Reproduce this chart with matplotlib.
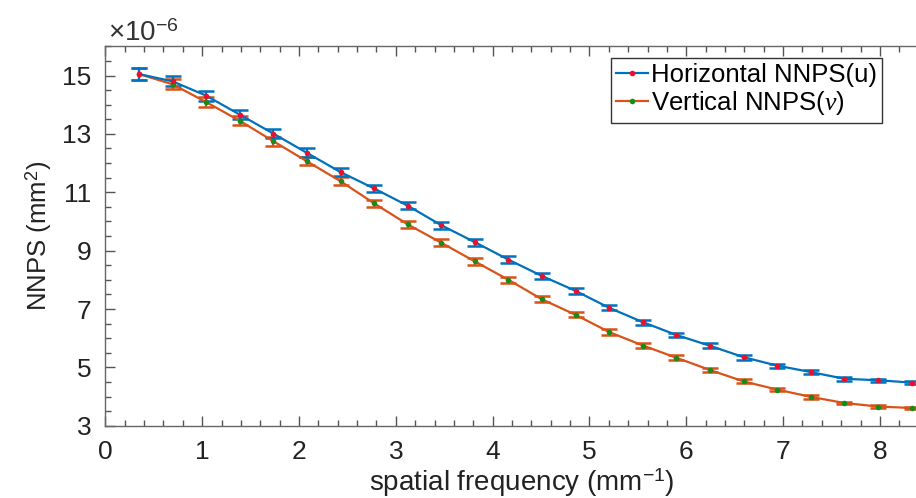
import matplotlib
matplotlib.use("Agg")
import matplotlib.pyplot as plt
import numpy as np
from matplotlib.ticker import MultipleLocator

plt.rcParams['font.family'] = ['Liberation Sans', 'DejaVu Sans']
plt.rcParams['mathtext.fontset'] = 'custom'
plt.rcParams['mathtext.rm'] = 'Liberation Sans'
plt.rcParams['mathtext.it'] = 'Liberation Serif:italic'

# spatial frequency (mm^-1)
freq = np.arange(1, 25) * 0.347

# NNPS values (x 1e-6 mm^2)
nnps_h = [15.05, 14.80, 14.31, 13.66, 13.01, 12.35, 11.69, 11.13, 10.54, 9.87,
          9.29, 8.69, 8.13, 7.62, 7.04, 6.55, 6.11, 5.74, 5.35, 5.06,
          4.84, 4.61, 4.56, 4.48]
nnps_v = [15.05, 14.70, 14.09, 13.45, 12.75, 12.06, 11.38, 10.62, 9.90, 9.27,
          8.63, 8.00, 7.33, 6.80, 6.21, 5.75, 5.33, 4.91, 4.52, 4.24,
          3.99, 3.78, 3.66, 3.61]
err_h = [0.20, 0.17, 0.17, 0.16, 0.15, 0.15, 0.14, 0.13, 0.13, 0.12,
         0.12, 0.11, 0.10, 0.10, 0.09, 0.09, 0.08, 0.08, 0.08, 0.07,
         0.06, 0.06, 0.05, 0.05]
err_v = [0.20, 0.17, 0.16, 0.15, 0.15, 0.14, 0.14, 0.13, 0.12, 0.12,
         0.11, 0.10, 0.10, 0.09, 0.09, 0.08, 0.08, 0.07, 0.07, 0.06,
         0.06, 0.05, 0.05, 0.05]

blue = '#0072BD'
orange = '#D95319'
red = '#E8112D'
green = '#1A8A1A'

fig = plt.figure(figsize=(9.16, 4.98), dpi=100)
ax = fig.add_axes([0.115, 0.145, 0.909, 0.762])

# error bars
ax.errorbar(freq, nnps_h, yerr=err_h, fmt='none', ecolor=blue, elinewidth=1.6,
            capsize=6, capthick=1.8, zorder=3)
ax.errorbar(freq, nnps_v, yerr=err_v, fmt='none', ecolor=orange, elinewidth=1.6,
            capsize=6, capthick=1.8, zorder=2)
# lines with dot markers
ax.plot(freq, nnps_h, color=blue, lw=1.6, marker='.', markersize=6,
        markerfacecolor=red, markeredgecolor=red, label='Horizontal NNPS(u)', zorder=4)
ax.plot(freq, nnps_v, color=orange, lw=1.6, marker='.', markersize=6,
        markerfacecolor=green, markeredgecolor=green, label=r'Vertical NNPS($\nu$)', zorder=3)

ax.set_xlim(0, 8.6)
ax.set_ylim(3, 16)
ax.xaxis.set_major_locator(MultipleLocator(1))
ax.xaxis.set_minor_locator(MultipleLocator(0.2))
ax.set_yticks([3, 5, 7, 9, 11, 13, 15])
ax.yaxis.set_minor_locator(MultipleLocator(0.5))
ax.tick_params(which='both', direction='in', top=True, right=False, colors='#555555',
               labelcolor='#222222', width=1.0)
ax.tick_params(which='major', length=7, labelsize=19)
ax.tick_params(axis='y', which='major', pad=10)
ax.tick_params(axis='x', which='major', pad=10)
ax.tick_params(which='minor', length=4)
for s in ax.spines.values():
    s.set_color('#666666')
    s.set_linewidth(1.0)
ax.spines['right'].set_visible(False)

ax.set_xlabel(r'spatial frequency (mm$^{-1}$)', fontsize=20, color='#222222', labelpad=2)
ax.set_ylabel(r'NNPS (mm$^{2}$)', fontsize=18.5, color='#222222', labelpad=6)

fig.text(0.118, 0.918, r'$\times$10$^{-6}$', fontsize=20, color='#333333')

leg = fig.legend(loc='upper left', bbox_to_anchor=(0.667, 0.884), fontsize=18.5,
                 handlelength=1.25, handletextpad=0.1, borderpad=0.2, labelspacing=0.1,
                 fancybox=False, framealpha=1, edgecolor='#333333', borderaxespad=0)
leg.get_frame().set_linewidth(1.0)

fig.savefig('out.png', dpi=100)
